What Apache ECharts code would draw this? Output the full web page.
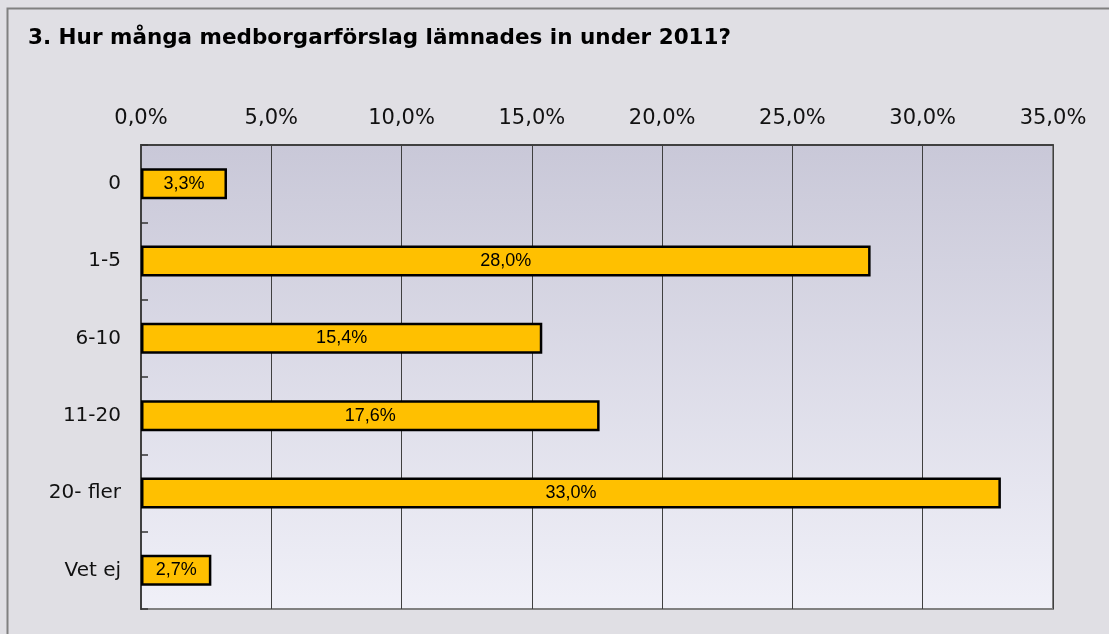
<!DOCTYPE html>
<html>
<head>
<meta charset="utf-8">
<script src="https://cdn.jsdelivr.net/npm/echarts@6/dist/echarts.min.js"></script>
<style>
html,body{margin:0;padding:0;background:#e0dfe4;}
#c{width:1109px;height:634px;}
</style>
</head>
<body>
<div id="c"></div>
<script>
const titleText = '3. Hur många medborgarförslag lämnades in under 2011?';
const categories = ['0', '1-5', '6-10', '11-20', '20- fler', 'Vet ej'];
const values = [3.3, 28.0, 15.4, 17.6, 33.0, 2.7];
const xMin = 0, xMax = 35, xStep = 5;

const fmt = v => v.toFixed(1).replace('.', ',') + '%';

const chart = echarts.init(document.getElementById('c'));
chart.setOption({
  backgroundColor: '#e0dfe4',
  animation: false,
  title: {
    text: titleText,
    left: 23, top: 22,
    textStyle: {fontFamily: 'DejaVu Sans', fontWeight: 'bold', fontSize: 21.5, color: '#000'}
  },
  graphic: [{
    type: 'rect', left: 5, top: 6, shape: {width: 1200, height: 700},
    style: {fill: 'none', stroke: '#808080', lineWidth: 2}, silent: true
  }],
  grid: {
    left: 141, top: 145, right: 56, bottom: 25,
    show: true,
    backgroundColor: new echarts.graphic.LinearGradient(0, 0, 0, 1, [
      {offset: 0, color: '#c9c8d8'}, {offset: 1, color: '#f0f0f8'}
    ]),
    borderColor: '#808080', borderWidth: 2
  },
  xAxis: {
    type: 'value', position: 'top', min: xMin, max: xMax, interval: xStep,
    axisLine: {show: true, lineStyle: {color: '#404040', width: 2}},
    axisTick: {show: false},
    splitLine: {show: true, lineStyle: {color: '#404040', width: 1}},
    axisLabel: {formatter: v => fmt(v), fontFamily: 'DejaVu Sans', fontSize: 21, color: '#111', margin: 16}
  },
  yAxis: {
    type: 'category', data: categories, inverse: true,
    axisLine: {show: true, lineStyle: {color: '#404040', width: 2}},
    axisTick: {show: true, inside: true, length: 7, lineStyle: {color: '#333', width: 1.5}},
    axisLabel: {fontFamily: 'DejaVu Sans', fontSize: 20, color: '#111', margin: 20}
  },
  series: [{
    type: 'bar', data: values, barCategoryGap: '60%',
    itemStyle: {color: '#ffc000', borderColor: '#000', borderWidth: 2.5},
    label: {show: true, position: 'inside', formatter: p => fmt(p.value),
      fontFamily: 'Liberation Sans', fontSize: 18, color: '#000'}
  }]
});
</script>
</body>
</html>
